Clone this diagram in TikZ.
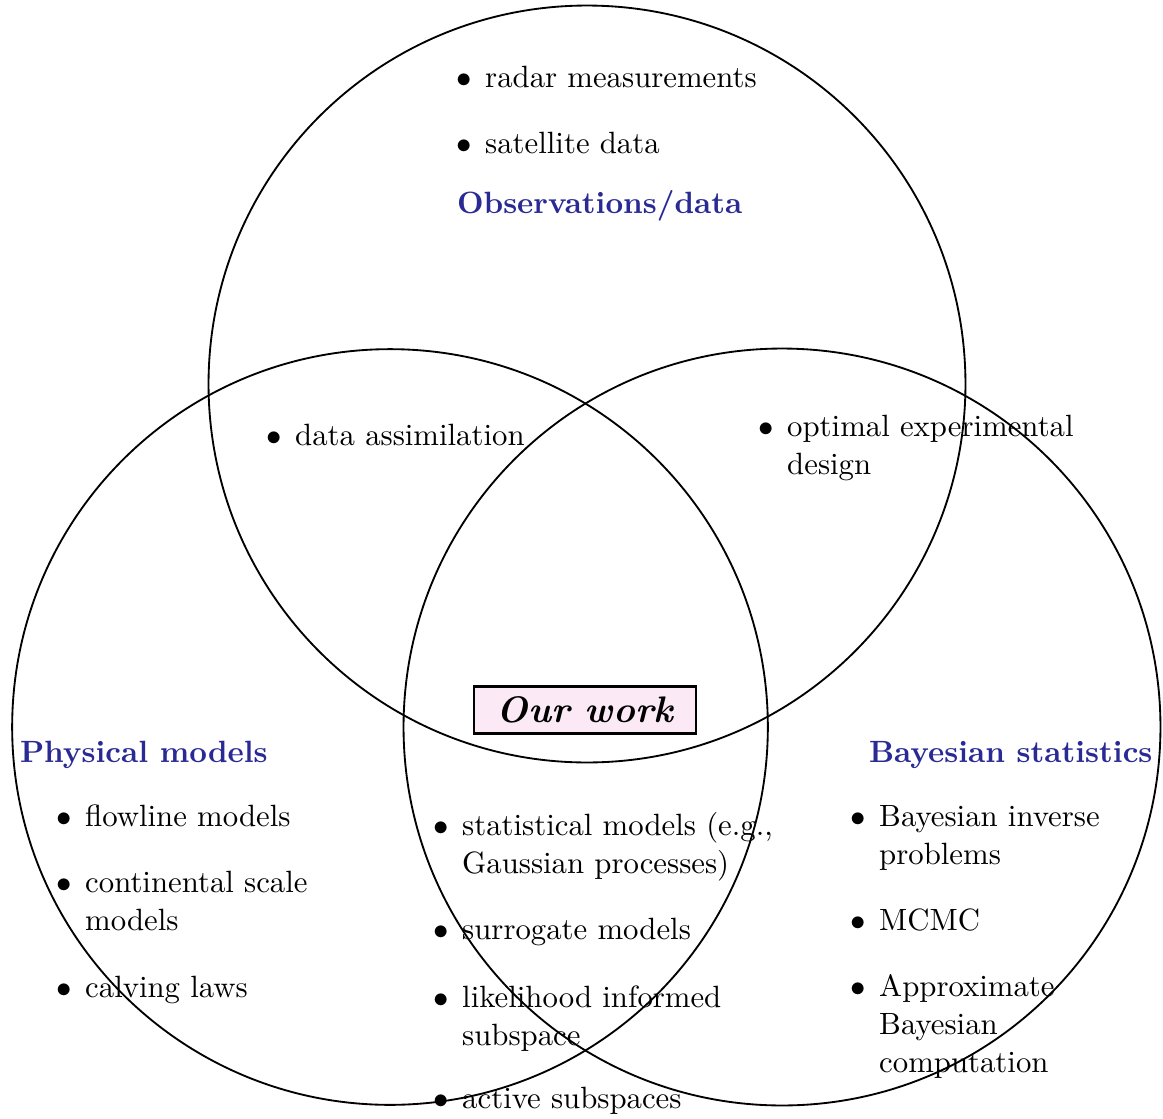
\documentclass[tikz,border=0pt]{standalone}
\usepackage{array}
\definecolor{titleblue}{RGB}{42,42,148}
\definecolor{workpink}{RGB}{251,234,246}
\renewcommand{\arraystretch}{1.03}
\newcommand{\bitem}[1]{\begin{tabular}[t]{@{}l@{\hspace{4.5pt}}l@{}}$\bullet$ & #1\end{tabular}}
\begin{document}
\begin{tikzpicture}[x=0.325pt, y=-0.325pt,
  every node/.style={inner sep=0pt, outer sep=0pt},
  venn/.style={draw, line width=0.6pt},
  title/.style={anchor=base west, font=\bfseries, text=titleblue},
  item/.style={anchor=base west},
  work/.style={draw, line width=0.8pt, fill=workpink, minimum width=72pt, minimum height=15.3pt, font=\large\bfseries\itshape}]
\useasboundingbox (0,0) rectangle (1163,1118);
% circles
\draw[venn] (587,384) circle[radius=123pt];
\draw[venn] (390,727) circle[radius=122.8pt];
\draw[venn] (782,727) circle[radius=123pt];
% top circle
\node[item] (radar) at (456,87) {\bitem{radar measurements}};
\node[item] (sat) at (456,153) {\bitem{satellite data}};
\node[title] (obs) at (457,213) {Observations/data};
% overlaps
\node[item] (assim) at (266,445) {\bitem{data assimilation}};
\node[item] (oed) at (758,436) {\bitem{optimal experimental\\ & design}};
% our work
\node[work] (ours) at (585,710) {Our work\hspace{7pt}};
% left circle
\node[title] (phys) at (20,762) {Physical models};
\node[item] (flow) at (56,826) {\bitem{flowline models}};
\node[item] (cont) at (56,892) {\bitem{continental scale\\ & models}};
\node[item] (calv) at (56,997) {\bitem{calving laws}};
% right circle
\node[title] (bayes) at (869,762) {Bayesian statistics};
\node[item] (binv) at (850,826) {\bitem{Bayesian inverse\\ & problems}};
\node[item] (mcmc) at (850,930) {\bitem{MCMC}};
\node[item] (abc) at (850,996) {\bitem{Approximate\\ & Bayesian\\ & computation}};
% center column
\node[item] (stat) at (433,835) {\bitem{statistical models (e.g.,\\ & Gaussian processes)}};
\node[item] (surr) at (433,939) {\bitem{surrogate models}};
\node[item] (lis) at (433,1007) {\bitem{likelihood informed\\ & subspace}};
\node[item] (active) at (433,1108) {\bitem{active subspaces}};
\end{tikzpicture}
\end{document}
